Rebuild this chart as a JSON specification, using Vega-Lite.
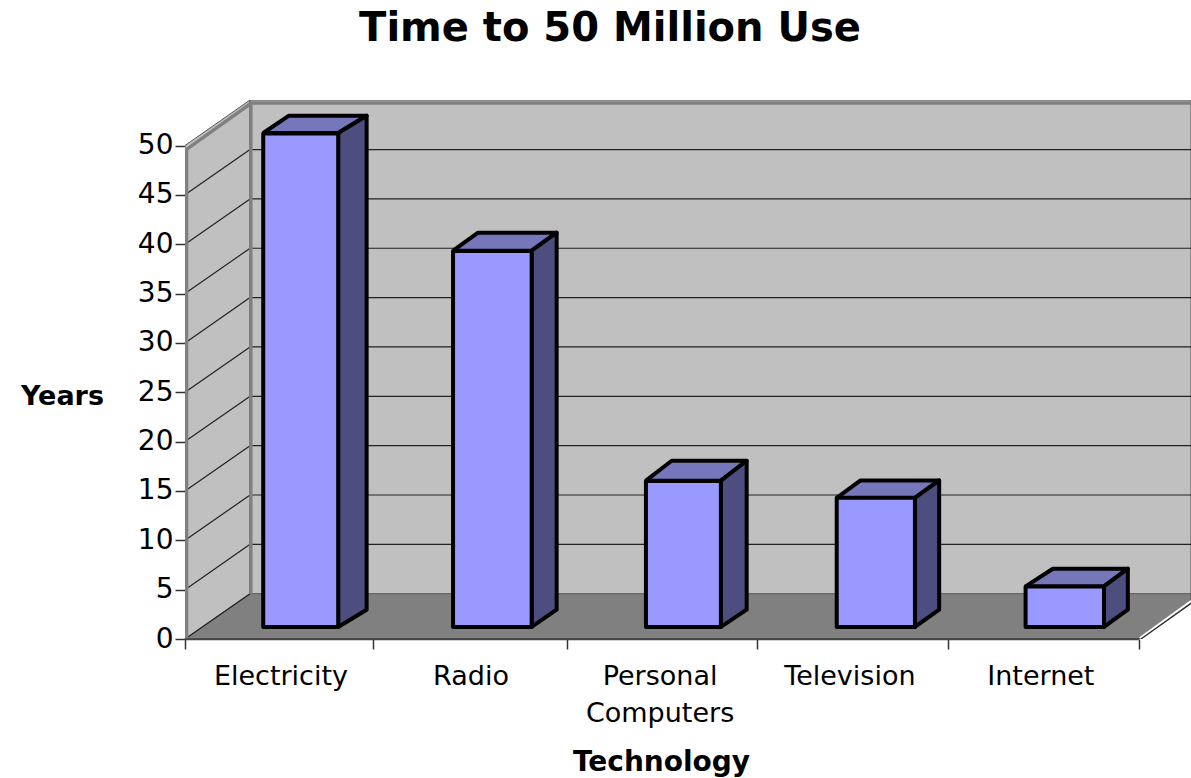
{"$schema":"https://vega.github.io/schema/vega-lite/v6.json","width":1006,"height":539,"padding":{"left":185,"top":100,"right":0,"bottom":139},"autosize":{"type":"none"},"background":"white",
"title":{"text":"Time to 50 Million Use","font":"DejaVu Sans","fontSize":40,"fontWeight":"bold","color":"black","anchor":"middle","frame":"group","dx":-78,"offset":51},
"config":{"view":{"stroke":null}},
"datasets":{
"bars":[{"Technology":"Electricity","Years":50,"start":0.41,"end":0.803,"mid":0.503},{"Technology":"Radio","Years":38.1,"start":1.405,"end":1.817,"mid":1.499},{"Technology":"Personal\nComputers","Years":14.8,"start":2.416,"end":2.809,"mid":2.49},{"Technology":"Television","Years":13.1,"start":3.416,"end":3.826,"mid":3.485},{"Technology":"Internet","Years":4.1,"start":4.406,"end":4.817,"mid":4.486}],
"planes":[
{"part":"left","i":0,"x":0,"y":0},{"part":"left","i":1,"x":0,"y":50},{"part":"left","i":2,"x":0.341,"y":54.61},{"part":"left","i":3,"x":0.341,"y":4.59},
{"part":"back","i":0,"x":0.341,"y":4.59},{"part":"back","i":1,"x":0.341,"y":54.61},{"part":"back","i":2,"x":5.273,"y":54.61},{"part":"back","i":3,"x":5.273,"y":4.59},
{"part":"floor","i":0,"x":0,"y":0},{"part":"floor","i":1,"x":0.341,"y":4.59},{"part":"floor","i":2,"x":5.273,"y":4.59},{"part":"floor","i":3,"x":5.273,"y":3.7},{"part":"floor","i":4,"x":5,"y":0},{"part":"floor","i":5,"x":0,"y":0}],
"ticks":[{"tick":5},{"tick":10},{"tick":15},{"tick":20},{"tick":25},{"tick":30},{"tick":35},{"tick":40},{"tick":45}],
"slants":[{"tick":0,"x":0,"y":0},{"tick":0,"x":0.341,"y":4.59},{"tick":5,"x":0,"y":5},{"tick":5,"x":0.341,"y":9.59},{"tick":10,"x":0,"y":10},{"tick":10,"x":0.341,"y":14.59},{"tick":15,"x":0,"y":15},{"tick":15,"x":0.341,"y":19.59},{"tick":20,"x":0,"y":20},{"tick":20,"x":0.341,"y":24.59},{"tick":25,"x":0,"y":25},{"tick":25,"x":0.341,"y":29.59},{"tick":30,"x":0,"y":30},{"tick":30,"x":0.341,"y":34.59},{"tick":35,"x":0,"y":35},{"tick":35,"x":0.341,"y":39.59},{"tick":40,"x":0,"y":40},{"tick":40,"x":0.341,"y":44.59},{"tick":45,"x":0,"y":45},{"tick":45,"x":0.341,"y":49.59}],
"edges":[{"e":"a","i":0,"x":0.008,"y":0},{"e":"a","i":1,"x":0.008,"y":49.6},{"e":"a","i":2,"x":0.348,"y":54.3},{"e":"a","i":3,"x":5.273,"y":54.3},
{"e":"b","i":0,"x":0.345,"y":4.59},{"e":"b","i":1,"x":0.345,"y":54.3}],
"faces":[
{"f":"Electricity top","part":"top","i":0,"x":0.41,"y":51.27},{"f":"Electricity top","part":"top","i":1,"x":0.545,"y":53.02},{"f":"Electricity top","part":"top","i":2,"x":0.952,"y":53.02},{"f":"Electricity top","part":"top","i":3,"x":0.803,"y":51.27},{"f":"Electricity top","part":"top","i":4,"x":0.41,"y":51.27},
{"f":"Electricity side","part":"side","i":0,"x":0.803,"y":51.27},{"f":"Electricity side","part":"side","i":1,"x":0.952,"y":53.02},{"f":"Electricity side","part":"side","i":2,"x":0.952,"y":2.97},{"f":"Electricity side","part":"side","i":3,"x":0.803,"y":1.22},{"f":"Electricity side","part":"side","i":4,"x":0.803,"y":51.27},
{"f":"Radio top","part":"top","i":0,"x":1.405,"y":39.34},{"f":"Radio top","part":"top","i":1,"x":1.536,"y":41.17},{"f":"Radio top","part":"top","i":2,"x":1.948,"y":41.17},{"f":"Radio top","part":"top","i":3,"x":1.817,"y":39.34},{"f":"Radio top","part":"top","i":4,"x":1.405,"y":39.34},
{"f":"Radio side","part":"side","i":0,"x":1.817,"y":39.34},{"f":"Radio side","part":"side","i":1,"x":1.948,"y":41.17},{"f":"Radio side","part":"side","i":2,"x":1.948,"y":2.97},{"f":"Radio side","part":"side","i":3,"x":1.817,"y":1.22},{"f":"Radio side","part":"side","i":4,"x":1.817,"y":39.34},
{"f":"PC top","part":"top","i":0,"x":2.416,"y":16.04},{"f":"PC top","part":"top","i":1,"x":2.551,"y":18.06},{"f":"PC top","part":"top","i":2,"x":2.944,"y":18.06},{"f":"PC top","part":"top","i":3,"x":2.809,"y":16.04},{"f":"PC top","part":"top","i":4,"x":2.416,"y":16.04},
{"f":"PC side","part":"side","i":0,"x":2.809,"y":16.04},{"f":"PC side","part":"side","i":1,"x":2.944,"y":18.06},{"f":"PC side","part":"side","i":2,"x":2.944,"y":2.97},{"f":"PC side","part":"side","i":3,"x":2.809,"y":1.22},{"f":"PC side","part":"side","i":4,"x":2.809,"y":16.04},
{"f":"TV top","part":"top","i":0,"x":3.416,"y":14.29},{"f":"TV top","part":"top","i":1,"x":3.541,"y":16.07},{"f":"TV top","part":"top","i":2,"x":3.953,"y":16.07},{"f":"TV top","part":"top","i":3,"x":3.826,"y":14.29},{"f":"TV top","part":"top","i":4,"x":3.416,"y":14.29},
{"f":"TV side","part":"side","i":0,"x":3.826,"y":14.29},{"f":"TV side","part":"side","i":1,"x":3.953,"y":16.07},{"f":"TV side","part":"side","i":2,"x":3.953,"y":2.97},{"f":"TV side","part":"side","i":3,"x":3.826,"y":1.22},{"f":"TV side","part":"side","i":4,"x":3.826,"y":14.29},
{"f":"Internet top","part":"top","i":0,"x":4.406,"y":5.33},{"f":"Internet top","part":"top","i":1,"x":4.549,"y":7.12},{"f":"Internet top","part":"top","i":2,"x":4.942,"y":7.12},{"f":"Internet top","part":"top","i":3,"x":4.817,"y":5.33},{"f":"Internet top","part":"top","i":4,"x":4.406,"y":5.33},
{"f":"Internet side","part":"side","i":0,"x":4.817,"y":5.33},{"f":"Internet side","part":"side","i":1,"x":4.942,"y":7.12},{"f":"Internet side","part":"side","i":2,"x":4.942,"y":2.97},{"f":"Internet side","part":"side","i":3,"x":4.817,"y":1.22},{"f":"Internet side","part":"side","i":4,"x":4.817,"y":5.33}]
},
"resolve":{"scale":{"y":"independent","fill":"independent"}},
"layer":[
{"data":{"name":"planes"},"mark":{"type":"line","stroke":"#555555","strokeWidth":1,"clip":true},
"encoding":{"x":{"field":"x","type":"quantitative","scale":{"domain":[0,5.273],"nice":false,"zero":false},
"axis":{"values":[0,0.985,2,3,4,5],"labels":false,"grid":false,"domain":false,"tickSize":10,"tickColor":"#333333","tickWidth":1.5,"title":"Technology","titleFont":"DejaVu Sans","titleFontSize":28,"titleFontWeight":"bold","titleColor":"black","titleX":476,"titleY":123,"titleAlign":"center","titleBaseline":"middle"}},
"y":{"field":"y","type":"quantitative","scale":{"domain":[0,54.61],"nice":false,"zero":false},
"axis":{"values":[0,5,10,15,20,25,30,35,40,45,50],"grid":false,"domain":false,"tickSize":10,"tickColor":"#333333","tickWidth":1.5,"labelFont":"DejaVu Sans","labelFontSize":28,"labelColor":"black","labelPadding":2,"title":"Years","titleFont":"DejaVu Sans","titleFontSize":27,"titleFontWeight":"bold","titleColor":"black","titleAngle":0,"titleX":-123,"titleY":296,"titleAlign":"center","titleBaseline":"middle"}},
"order":{"field":"i","type":"quantitative"},"detail":{"field":"part"},
"fill":{"field":"part","type":"nominal","scale":{"domain":["left","back","floor"],"range":["#C0C0C0","#C0C0C0","#808080"]},"legend":null}}},
{"data":{"name":"ticks"},"mark":{"type":"rule","stroke":"#222222","strokeWidth":1.2},
"encoding":{"x":{"datum":0.341,"type":"quantitative"},"x2":{"datum":5.273},"y":{"field":"tick","type":"quantitative","scale":{"domain":[-4.59,50.02],"nice":false,"zero":false},"axis":null}}},
{"data":{"name":"slants"},"mark":{"type":"line","stroke":"#222222","strokeWidth":1.2},
"encoding":{"x":{"field":"x","type":"quantitative"},"y":{"field":"y","type":"quantitative","scale":{"domain":[0,54.61],"nice":false,"zero":false},"axis":null},"detail":{"field":"tick"}}},
{"data":{"name":"edges"},"mark":{"type":"line","stroke":"#808080","strokeWidth":3.5,"clip":true},
"encoding":{"x":{"field":"x","type":"quantitative"},"y":{"field":"y","type":"quantitative","scale":{"domain":[0,54.61],"nice":false,"zero":false},"axis":null},"detail":{"field":"e"},"order":{"field":"i","type":"quantitative"}}},
{"data":{"values":[{"x":0,"y":-0.02},{"x":5,"y":-0.02}]},"mark":{"type":"line","stroke":"#444444","strokeWidth":2},
"encoding":{"x":{"field":"x","type":"quantitative"},"y":{"field":"y","type":"quantitative","scale":{"domain":[0,54.61],"nice":false,"zero":false},"axis":null}}},
{"data":{"values":[{"x":5.005,"y":0.1},{"x":5.273,"y":3.85}]},"mark":{"type":"line","stroke":"white","strokeWidth":2,"clip":true},
"encoding":{"x":{"field":"x","type":"quantitative"},"y":{"field":"y","type":"quantitative","scale":{"domain":[0,54.61],"nice":false,"zero":false},"axis":null}}},
{"data":{"values":[{"x":5,"y":-0.15},{"x":5.273,"y":3.6}]},"mark":{"type":"line","stroke":"#222222","strokeWidth":1.2,"clip":true},
"encoding":{"x":{"field":"x","type":"quantitative"},"y":{"field":"y","type":"quantitative","scale":{"domain":[0,54.61],"nice":false,"zero":false},"axis":null}}},
{"data":{"name":"faces"},"mark":{"type":"line","stroke":"black","strokeWidth":4,"strokeJoin":"round"},
"encoding":{"x":{"field":"x","type":"quantitative"},"y":{"field":"y","type":"quantitative","scale":{"domain":[0,54.61],"nice":false,"zero":false},"axis":null},"detail":{"field":"f"},"order":{"field":"i","type":"quantitative"},
"fill":{"field":"part","type":"nominal","scale":{"domain":["top","side"],"range":["#7676BB","#4D4D80"]},"legend":null}}},
{"data":{"name":"bars"},"mark":{"type":"rect","fill":"#9999FF","stroke":"black","strokeWidth":4,"strokeJoin":"round"},
"encoding":{"x":{"field":"start","type":"quantitative"},"x2":{"field":"end"},"y":{"field":"Years","type":"quantitative","scale":{"domain":[-1.22,53.39],"nice":false,"zero":false},"axis":null},"y2":{"datum":0}}},
{"data":{"name":"bars"},"mark":{"type":"text","font":"DejaVu Sans","fontSize":27,"color":"black","align":"center","baseline":"top","lineBreak":"\n","lineHeight":37,"dy":25},
"encoding":{"x":{"field":"mid","type":"quantitative"},"y":{"datum":0,"type":"quantitative","scale":{"domain":[0,54.61],"nice":false,"zero":false},"axis":null},"text":{"field":"Technology"}}}
]}
